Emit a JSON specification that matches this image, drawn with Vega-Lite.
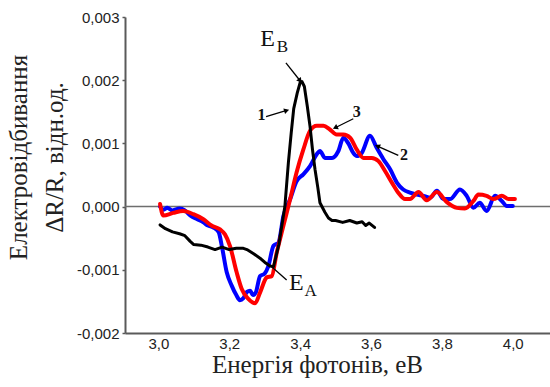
{
  "$schema": "https://vega.github.io/schema/vega-lite/v6.json",
  "width": 425,
  "height": 316,
  "autosize": {"type": "none"},
  "padding": {"left": 125, "top": 17, "right": 0, "bottom": 54},
  "background": "white",
  "config": {
    "view": {"stroke": null},
    "axis": {"grid": false, "domainColor": "#5a5a5a", "domainWidth": 2, "labelFont": "Liberation Sans", "labelFontSize": 15, "labelColor": "#222", "titleFont": "Liberation Serif", "titleFontWeight": "normal", "titleFontSize": 25, "titleColor": "#222"}
  },
  "datasets": {
    "curves": [
      {"curve": "1", "E": 3.005, "v": -0.00029}, {"curve": "1", "E": 3.02, "v": -0.00035}, {"curve": "1", "E": 3.04, "v": -0.0004}, {"curve": "1", "E": 3.06, "v": -0.00043}, {"curve": "1", "E": 3.075, "v": -0.00046}, {"curve": "1", "E": 3.09, "v": -0.00055}, {"curve": "1", "E": 3.10, "v": -0.0006}, {"curve": "1", "E": 3.12, "v": -0.00061}, {"curve": "1", "E": 3.14, "v": -0.00064}, {"curve": "1", "E": 3.16, "v": -0.00068}, {"curve": "1", "E": 3.18, "v": -0.00064}, {"curve": "1", "E": 3.20, "v": -0.00068}, {"curve": "1", "E": 3.22, "v": -0.00066}, {"curve": "1", "E": 3.24, "v": -0.00066}, {"curve": "1", "E": 3.25, "v": -0.00068}, {"curve": "1", "E": 3.27, "v": -0.00075}, {"curve": "1", "E": 3.29, "v": -0.00083}, {"curve": "1", "E": 3.30, "v": -0.00088}, {"curve": "1", "E": 3.315, "v": -0.00094}, {"curve": "1", "E": 3.325, "v": -0.00095}, {"curve": "1", "E": 3.34, "v": -0.0006}, {"curve": "1", "E": 3.357, "v": 0.0}, {"curve": "1", "E": 3.367, "v": 0.0007}, {"curve": "1", "E": 3.375, "v": 0.00117}, {"curve": "1", "E": 3.382, "v": 0.00155}, {"curve": "1", "E": 3.392, "v": 0.0018}, {"curve": "1", "E": 3.40, "v": 0.00196}, {"curve": "1", "E": 3.405, "v": 0.00198}, {"curve": "1", "E": 3.412, "v": 0.0019}, {"curve": "1", "E": 3.42, "v": 0.0016}, {"curve": "1", "E": 3.428, "v": 0.00127}, {"curve": "1", "E": 3.435, "v": 0.0009}, {"curve": "1", "E": 3.442, "v": 0.00059}, {"curve": "1", "E": 3.45, "v": 0.0003}, {"curve": "1", "E": 3.456, "v": 0.00006}, {"curve": "1", "E": 3.47, "v": -0.00009}, {"curve": "1", "E": 3.48, "v": -0.00018}, {"curve": "1", "E": 3.49, "v": -0.00022}, {"curve": "1", "E": 3.50, "v": -0.00022}, {"curve": "1", "E": 3.52, "v": -0.00025}, {"curve": "1", "E": 3.54, "v": -0.00022}, {"curve": "1", "E": 3.56, "v": -0.00026}, {"curve": "1", "E": 3.575, "v": -0.00024}, {"curve": "1", "E": 3.585, "v": -0.0003}, {"curve": "1", "E": 3.595, "v": -0.00026}, {"curve": "1", "E": 3.61, "v": -0.00033},

      {"curve": "2", "E": 3.005, "v": 0.0}, {"curve": "2", "E": 3.015, "v": -0.00005}, {"curve": "2", "E": 3.025, "v": -0.00002}, {"curve": "2", "E": 3.04, "v": -0.00006}, {"curve": "2", "E": 3.06, "v": -0.00003}, {"curve": "2", "E": 3.075, "v": -0.00006}, {"curve": "2", "E": 3.09, "v": -0.00014}, {"curve": "2", "E": 3.11, "v": -0.0002}, {"curve": "2", "E": 3.127, "v": -0.00025}, {"curve": "2", "E": 3.14, "v": -0.0003}, {"curve": "2", "E": 3.155, "v": -0.00033}, {"curve": "2", "E": 3.17, "v": -0.0004}, {"curve": "2", "E": 3.18, "v": -0.00065}, {"curve": "2", "E": 3.193, "v": -0.00104}, {"curve": "2", "E": 3.207, "v": -0.00125}, {"curve": "2", "E": 3.22, "v": -0.0014}, {"curve": "2", "E": 3.23, "v": -0.00148}, {"curve": "2", "E": 3.24, "v": -0.00145}, {"curve": "2", "E": 3.25, "v": -0.00135}, {"curve": "2", "E": 3.259, "v": -0.00133}, {"curve": "2", "E": 3.267, "v": -0.0014}, {"curve": "2", "E": 3.275, "v": -0.00136}, {"curve": "2", "E": 3.287, "v": -0.0011}, {"curve": "2", "E": 3.30, "v": -0.00106}, {"curve": "2", "E": 3.31, "v": -0.00095}, {"curve": "2", "E": 3.325, "v": -0.00062}, {"curve": "2", "E": 3.339, "v": -0.00057}, {"curve": "2", "E": 3.353, "v": -0.00015}, {"curve": "2", "E": 3.372, "v": 0.00012}, {"curve": "2", "E": 3.39, "v": 0.0004}, {"curve": "2", "E": 3.409, "v": 0.00051}, {"curve": "2", "E": 3.428, "v": 0.00064}, {"curve": "2", "E": 3.447, "v": 0.00083}, {"curve": "2", "E": 3.456, "v": 0.00088}, {"curve": "2", "E": 3.47, "v": 0.00077}, {"curve": "2", "E": 3.49, "v": 0.00077}, {"curve": "2", "E": 3.508, "v": 0.00088}, {"curve": "2", "E": 3.522, "v": 0.00109}, {"curve": "2", "E": 3.536, "v": 0.001}, {"curve": "2", "E": 3.55, "v": 0.00085}, {"curve": "2", "E": 3.56, "v": 0.0008}, {"curve": "2", "E": 3.574, "v": 0.00085}, {"curve": "2", "E": 3.597, "v": 0.00112}, {"curve": "2", "E": 3.616, "v": 0.00093}, {"curve": "2", "E": 3.635, "v": 0.00075}, {"curve": "2", "E": 3.654, "v": 0.00059}, {"curve": "2", "E": 3.673, "v": 0.00038}, {"curve": "2", "E": 3.691, "v": 0.00027}, {"curve": "2", "E": 3.71, "v": 0.00022}, {"curve": "2", "E": 3.729, "v": 0.00019}, {"curve": "2", "E": 3.748, "v": 0.00017}, {"curve": "2", "E": 3.767, "v": 0.00014}, {"curve": "2", "E": 3.786, "v": 0.00025}, {"curve": "2", "E": 3.804, "v": 0.00012}, {"curve": "2", "E": 3.823, "v": 0.00012}, {"curve": "2", "E": 3.851, "v": 0.00027}, {"curve": "2", "E": 3.87, "v": 0.00017}, {"curve": "2", "E": 3.889, "v": -0.00002}, {"curve": "2", "E": 3.907, "v": 0.00006}, {"curve": "2", "E": 3.926, "v": -0.00007}, {"curve": "2", "E": 3.95, "v": 0.00017}, {"curve": "2", "E": 3.969, "v": 0.00009}, {"curve": "2", "E": 3.983, "v": 0.00001}, {"curve": "2", "E": 4.0, "v": 0.00001},

      {"curve": "3", "E": 3.005, "v": 0.00004}, {"curve": "3", "E": 3.014, "v": -0.00014}, {"curve": "3", "E": 3.042, "v": -0.0001}, {"curve": "3", "E": 3.07, "v": -0.00007}, {"curve": "3", "E": 3.099, "v": -0.00012}, {"curve": "3", "E": 3.127, "v": -0.0002}, {"curve": "3", "E": 3.15, "v": -0.0003}, {"curve": "3", "E": 3.174, "v": -0.00036}, {"curve": "3", "E": 3.188, "v": -0.00044}, {"curve": "3", "E": 3.202, "v": -0.00062}, {"curve": "3", "E": 3.221, "v": -0.00104}, {"curve": "3", "E": 3.235, "v": -0.0013}, {"curve": "3", "E": 3.254, "v": -0.00146}, {"curve": "3", "E": 3.273, "v": -0.00153}, {"curve": "3", "E": 3.287, "v": -0.00136}, {"curve": "3", "E": 3.306, "v": -0.00112}, {"curve": "3", "E": 3.32, "v": -0.0011}, {"curve": "3", "E": 3.334, "v": -0.00073}, {"curve": "3", "E": 3.353, "v": -0.0003}, {"curve": "3", "E": 3.372, "v": 0.00012}, {"curve": "3", "E": 3.39, "v": 0.00054}, {"curve": "3", "E": 3.409, "v": 0.0009}, {"curve": "3", "E": 3.428, "v": 0.0012}, {"curve": "3", "E": 3.447, "v": 0.00128}, {"curve": "3", "E": 3.466, "v": 0.00128}, {"curve": "3", "E": 3.484, "v": 0.00122}, {"curve": "3", "E": 3.503, "v": 0.00114}, {"curve": "3", "E": 3.522, "v": 0.00114}, {"curve": "3", "E": 3.541, "v": 0.00109}, {"curve": "3", "E": 3.56, "v": 0.0009}, {"curve": "3", "E": 3.579, "v": 0.00077}, {"curve": "3", "E": 3.602, "v": 0.00077}, {"curve": "3", "E": 3.621, "v": 0.00072}, {"curve": "3", "E": 3.64, "v": 0.00056}, {"curve": "3", "E": 3.659, "v": 0.00038}, {"curve": "3", "E": 3.677, "v": 0.00022}, {"curve": "3", "E": 3.696, "v": 0.00012}, {"curve": "3", "E": 3.71, "v": 0.00012}, {"curve": "3", "E": 3.734, "v": 0.00023}, {"curve": "3", "E": 3.757, "v": 0.0001}, {"curve": "3", "E": 3.786, "v": 0.00023}, {"curve": "3", "E": 3.814, "v": 0.00007}, {"curve": "3", "E": 3.842, "v": -0.00002}, {"curve": "3", "E": 3.865, "v": -0.00003}, {"curve": "3", "E": 3.889, "v": 0.00009}, {"curve": "3", "E": 3.903, "v": 0.00019}, {"curve": "3", "E": 3.926, "v": 0.00017}, {"curve": "3", "E": 3.945, "v": 0.00012}, {"curve": "3", "E": 3.969, "v": 0.00017}, {"curve": "3", "E": 3.988, "v": 0.00012}, {"curve": "3", "E": 4.006, "v": 0.00012}
    ],
    "arrows": [
      {"id": "EB", "E": 3.36, "v": 0.002275, "E2": 3.40, "v2": 0.001991},
      {"id": "1", "E": 3.304, "v": 0.001422, "E2": 3.362, "v2": 0.001521},
      {"id": "3", "E": 3.55, "v": 0.00139, "E2": 3.499, "v2": 0.001248},
      {"id": "2", "E": 3.677, "v": 0.00081, "E2": 3.618, "v2": 0.000957},
      {"id": "EA", "E": 3.315, "v": -0.000927, "E2": 3.362, "v2": -0.00116}
    ],
    "letters": [
      {"t": "E", "E": 3.308, "v": 0.002537},
      {"t": "E", "E": 3.389, "v": -0.001322}
    ],
    "subs": [
      {"t": "B", "E": 3.35, "v": 0.002449},
      {"t": "A", "E": 3.43, "v": -0.001412}
    ],
    "nums": [
      {"t": "1", "E": 3.291, "v": 0.001374},
      {"t": "3", "E": 3.56, "v": 0.001413},
      {"t": "2", "E": 3.693, "v": 0.000736}
    ]
  },
  "layer": [
    {
      "data": {"values": [{"v": 0}]},
      "mark": {"type": "rule", "color": "#6e6e6e", "strokeWidth": 1.5},
      "encoding": {
        "y": {"field": "v", "type": "quantitative", "scale": {"domain": [-0.002, 0.003], "nice": false, "zero": false},
          "title": ["Електровідбивання", "ΔR/R, відн.од."],
          "axis": {"values": [-0.002, -0.001, 0, 0.001, 0.002, 0.003], "labelExpr": "replace(replace(format(datum.value, '.3f'), '.', ','), '\u2212', '-')", "tickSize": 3, "tickColor": "#5a5a5a", "tickWidth": 1.5, "labelPadding": 3,
            "titleX": -107, "titleY": 140, "titleAngle": -90, "titleBaseline": "middle", "titleAlign": "center", "titleLineHeight": 36}}
      }
    },
    {
      "data": {"name": "curves"},
      "transform": [{"filter": "datum.curve === '2'"}],
      "mark": {"type": "line", "color": "#0000ff", "strokeWidth": 4, "strokeJoin": "round", "strokeCap": "round", "interpolate": "monotone"},
      "encoding": {
        "x": {"field": "E", "type": "quantitative", "scale": {"domain": [2.906, 4.105], "nice": false, "zero": false}, "title": "Енергія фотонів, еВ",
          "axis": {"values": [3.0, 3.2, 3.4, 3.6, 3.8, 4.0], "labelExpr": "replace(format(datum.value, '.1f'), '.', ',')", "ticks": false, "labelPadding": 3,
            "titleX": 192, "titleY": 39, "titleBaseline": "alphabetic", "titleAlign": "center"}},
        "y": {"field": "v", "type": "quantitative", "scale": {"domain": [-0.002, 0.003], "nice": false, "zero": false}, "title": ["Електровідбивання", "ΔR/R, відн.од."]}
      }
    },
    {
      "data": {"name": "curves"},
      "transform": [{"filter": "datum.curve === '3'"}],
      "mark": {"type": "line", "color": "#ff0000", "strokeWidth": 4, "strokeJoin": "round", "strokeCap": "round", "interpolate": "monotone"},
      "encoding": {
        "x": {"field": "E", "type": "quantitative", "scale": {"domain": [2.906, 4.105], "nice": false, "zero": false}, "title": "Енергія фотонів, еВ"},
        "y": {"field": "v", "type": "quantitative", "scale": {"domain": [-0.002, 0.003], "nice": false, "zero": false}, "title": ["Електровідбивання", "ΔR/R, відн.од."]}
      }
    },
    {
      "data": {"name": "curves"},
      "transform": [{"filter": "datum.curve === '1'"}],
      "mark": {"type": "line", "color": "#000000", "strokeWidth": 3, "strokeJoin": "round", "strokeCap": "round"},
      "encoding": {
        "x": {"field": "E", "type": "quantitative", "scale": {"domain": [2.906, 4.105], "nice": false, "zero": false}, "title": "Енергія фотонів, еВ"},
        "y": {"field": "v", "type": "quantitative", "scale": {"domain": [-0.002, 0.003], "nice": false, "zero": false}, "title": ["Електровідбивання", "ΔR/R, відн.од."]}
      }
    },
    {
      "data": {"name": "arrows"},
      "mark": {"type": "rule", "color": "#000000", "strokeWidth": 1.3},
      "encoding": {
        "x": {"field": "E", "type": "quantitative", "scale": {"domain": [2.906, 4.105], "nice": false, "zero": false}, "title": "Енергія фотонів, еВ"},
        "y": {"field": "v", "type": "quantitative", "scale": {"domain": [-0.002, 0.003], "nice": false, "zero": false}, "title": ["Електровідбивання", "ΔR/R, відн.од."]},
        "x2": {"field": "E2"},
        "y2": {"field": "v2"}
      }
    },
    {
      "data": {"name": "arrows"},
      "transform": [{"filter": "datum.id === 'EB'"}],
      "mark": {"type": "point", "shape": "triangle-up", "filled": true, "color": "#000000", "size": 35, "angle": 142, "opacity": 1},
      "encoding": {
        "x": {"field": "E2", "type": "quantitative", "scale": {"domain": [2.906, 4.105], "nice": false, "zero": false}, "title": "Енергія фотонів, еВ"},
        "y": {"field": "v2", "type": "quantitative", "scale": {"domain": [-0.002, 0.003], "nice": false, "zero": false}, "title": ["Електровідбивання", "ΔR/R, відн.од."]}
      }
    },
    {
      "data": {"name": "arrows"},
      "transform": [{"filter": "datum.id === '1'"}],
      "mark": {"type": "point", "shape": "triangle-up", "filled": true, "color": "#000000", "size": 35, "angle": 73, "opacity": 1},
      "encoding": {
        "x": {"field": "E2", "type": "quantitative", "scale": {"domain": [2.906, 4.105], "nice": false, "zero": false}, "title": "Енергія фотонів, еВ"},
        "y": {"field": "v2", "type": "quantitative", "scale": {"domain": [-0.002, 0.003], "nice": false, "zero": false}, "title": ["Електровідбивання", "ΔR/R, відн.од."]}
      }
    },
    {
      "data": {"name": "arrows"},
      "transform": [{"filter": "datum.id === '3'"}],
      "mark": {"type": "point", "shape": "triangle-up", "filled": true, "color": "#000000", "size": 35, "angle": 244, "opacity": 1},
      "encoding": {
        "x": {"field": "E2", "type": "quantitative", "scale": {"domain": [2.906, 4.105], "nice": false, "zero": false}, "title": "Енергія фотонів, еВ"},
        "y": {"field": "v2", "type": "quantitative", "scale": {"domain": [-0.002, 0.003], "nice": false, "zero": false}, "title": ["Електровідбивання", "ΔR/R, відн.од."]}
      }
    },
    {
      "data": {"name": "arrows"},
      "transform": [{"filter": "datum.id === '2'"}],
      "mark": {"type": "point", "shape": "triangle-up", "filled": true, "color": "#000000", "size": 35, "angle": 294, "opacity": 1},
      "encoding": {
        "x": {"field": "E2", "type": "quantitative", "scale": {"domain": [2.906, 4.105], "nice": false, "zero": false}, "title": "Енергія фотонів, еВ"},
        "y": {"field": "v2", "type": "quantitative", "scale": {"domain": [-0.002, 0.003], "nice": false, "zero": false}, "title": ["Електровідбивання", "ΔR/R, відн.од."]}
      }
    },
    {
      "data": {"name": "letters"},
      "mark": {"type": "text", "font": "Liberation Serif", "fontSize": 24, "align": "center", "baseline": "alphabetic", "color": "#111"},
      "encoding": {
        "x": {"field": "E", "type": "quantitative", "scale": {"domain": [2.906, 4.105], "nice": false, "zero": false}, "title": "Енергія фотонів, еВ"},
        "y": {"field": "v", "type": "quantitative", "scale": {"domain": [-0.002, 0.003], "nice": false, "zero": false}, "title": ["Електровідбивання", "ΔR/R, відн.од."]},
        "text": {"field": "t"}
      }
    },
    {
      "data": {"name": "subs"},
      "mark": {"type": "text", "font": "Liberation Serif", "fontSize": 17, "align": "center", "baseline": "alphabetic", "color": "#111"},
      "encoding": {
        "x": {"field": "E", "type": "quantitative", "scale": {"domain": [2.906, 4.105], "nice": false, "zero": false}, "title": "Енергія фотонів, еВ"},
        "y": {"field": "v", "type": "quantitative", "scale": {"domain": [-0.002, 0.003], "nice": false, "zero": false}, "title": ["Електровідбивання", "ΔR/R, відн.од."]},
        "text": {"field": "t"}
      }
    },
    {
      "data": {"name": "nums"},
      "mark": {"type": "text", "font": "Liberation Serif", "fontSize": 16, "fontWeight": "bold", "align": "center", "baseline": "alphabetic", "color": "#111"},
      "encoding": {
        "x": {"field": "E", "type": "quantitative", "scale": {"domain": [2.906, 4.105], "nice": false, "zero": false}, "title": "Енергія фотонів, еВ"},
        "y": {"field": "v", "type": "quantitative", "scale": {"domain": [-0.002, 0.003], "nice": false, "zero": false}, "title": ["Електровідбивання", "ΔR/R, відн.од."]},
        "text": {"field": "t"}
      }
    }
  ]
}
